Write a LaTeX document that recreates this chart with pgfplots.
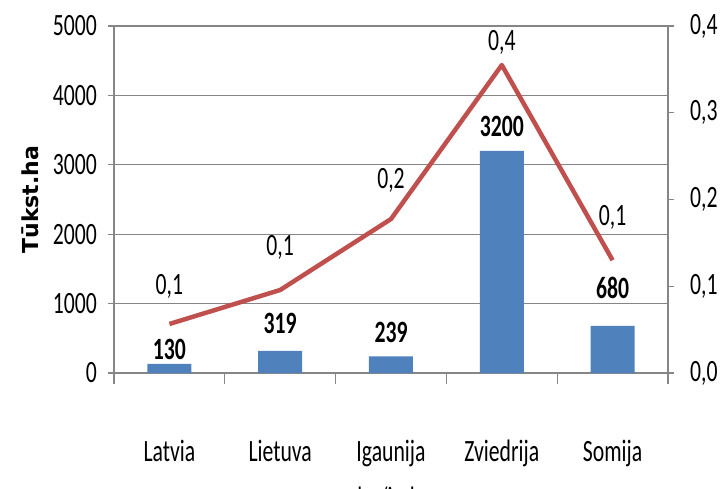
\documentclass[border=0pt]{standalone}
\usepackage{pgfplots}
\pgfplotsset{compat=1.18}
\usepackage{fontspec}
\setmainfont{Carlito}[FakeStretch=0.7]
\newfontfamily\labfont{DejaVu Sans}
\definecolor{barblue}{HTML}{4F81BD}
\definecolor{linered}{HTML}{C0504D}
\definecolor{axgray}{HTML}{868686}
\newcommand{\fs}{\fontsize{31}{36}\selectfont}
\begin{document}
\fs
\begin{tikzpicture}
\path[use as bounding box] (-114pt,-115pt) rectangle (608pt,373pt);
\begin{axis}[
  scale only axis, width=554pt, height=347pt,
  xmin=-0.5, xmax=4.5, ymin=0, ymax=5000,
  axis y line*=left, axis x line*=bottom,
  axis line style={axgray, line width=1.2pt, -},
  xtick={0,1,2,3,4},
  xticklabels={Latvia,Lietuva,Igaunija,Zviedrija,Somija},
  major x tick style={draw=none},
  minor xtick={-0.5,0.5,1.5,2.5,3.5,4.5},
  minor x tick style={axgray, line width=1.2pt},
  minor tick length=11pt,
  ytick={0,1000,2000,3000,4000,5000},
  major y tick style={axgray, line width=1.2pt},
  major tick length=6pt,
  tick align=outside,
  ymajorgrids, grid style={axgray, line width=1.2pt},
  /pgf/number format/assume math mode=true,
  /pgf/number format/1000 sep={},
  xticklabel style={anchor=base, yshift=-82pt, font=\fs},
  yticklabel style={anchor=east, inner sep=0pt, xshift=-11pt, font=\fs},
  ylabel={\labfont\bfseries T\=ukst.ha},
  ylabel style={font=\fontsize{22}{26}\selectfont, at={(-84pt,0.5)}, anchor=center, rotate=0},
]
\addplot[ybar, bar width=44pt, fill=barblue, draw=none,
  visualization depends on={\thisrow{off} \as \off},
  nodes near coords,
  point meta=explicit symbolic,
  nodes near coords style={font=\fs\bfseries, anchor=center, yshift=\off pt},
] table[x=x, y=y, meta=lab] {
x y lab off
0 130 130 15
1 319 319 27
2 239 239 24
3 3200 3200 24
4 680 680 38
};
\end{axis}
\begin{axis}[
  scale only axis, width=554pt, height=347pt,
  xmin=-0.5, xmax=4.5, ymin=0, ymax=0.4,
  axis y line*=right, axis x line=none,
  axis line style={axgray, line width=1.2pt, -},
  ytick={0,0.1,0.2,0.3,0.4},
  major y tick style={axgray, line width=1.2pt},
  major tick length=6pt,
  tick align=outside,
  /pgf/number format/assume math mode=true,
  yticklabel={\pgfmathprintnumber[fixed, fixed zerofill, precision=1, use comma]{\tick}},
  yticklabel style={anchor=west, inner sep=0pt, xshift=16pt, font=\fs},
  legend style={at={(0.455,-0.315)}, anchor=north, draw=none, fill=none, font=\fs},
  legend image code/.code={\draw[#1] (0pt,0pt) -- (44pt,0pt);},
]
\addplot[linered, line width=4.5pt, line join=round,
  visualization depends on={\thisrow{off} \as \off},
  nodes near coords,
  point meta=explicit symbolic,
  nodes near coords style={font=\fs, color=black, anchor=center, yshift=\off pt},
] table[x=x, y=y, meta=lab] {
x y lab off
0 0.0565 {0,1} 38
1 0.0957 {0,1} 43
2 0.1775 {0,2} 39
3 0.355 {0,4} 23
4 0.130 {0,1} 43
};
\addlegendentry{ha/iedz}
\end{axis}
\end{tikzpicture}
\end{document}
